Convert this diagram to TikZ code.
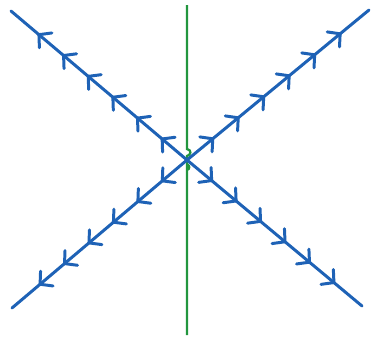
\documentclass[tikz,border=0pt]{standalone}
\usetikzlibrary{arrows.meta,decorations.markings}
\definecolor{rayblue}{RGB}{30,98,182}
\definecolor{axgreen}{RGB}{34,150,62}

\begin{document}
\begin{tikzpicture}[x=0.02cm,y=-0.02cm,
 ray/.style={draw=rayblue,line width=1.7pt,line cap=round,postaction={decorate},
 decoration={markings,mark=between positions 0.15 and 0.86 step 0.14 with {\arrow{Straight Barb[length=5pt,width=11pt,line cap=round]}}}},
 axis/.style={draw=axgreen,line width=1.3pt}]
\useasboundingbox(0,0)rectangle(371,338);
\coordinate(o)at(187,160);
\coordinate(nw)at(11,11);\coordinate(se)at(362,306);
\coordinate(ne)at(369,10);\coordinate(sw)at(12,308);
\coordinate(top)at(187,5);\coordinate(bot)at(187,335);
\draw[axis](top)--(187,149) .. controls (192,150) and (191,155) .. (187,156)--(bot);
\draw[axis](187,164) .. controls (190,166) and (190,169) .. (187,170);
\draw[ray](o)--(nw);\draw[ray](o)--(se);
\draw[ray](o)--(ne);\draw[ray](o)--(sw);
\end{tikzpicture}
\end{document}
